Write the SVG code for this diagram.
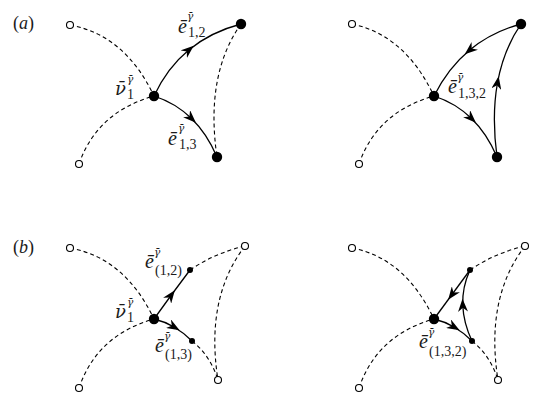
<svg xmlns="http://www.w3.org/2000/svg" width="554" height="410" viewBox="0 0 554 410">
<style>
.dash{fill:none;stroke:#000;stroke-width:1.1;stroke-dasharray:4,3}
.sol{fill:none;stroke:#000;stroke-width:1.3;marker-mid:url(#arr)}
.open{fill:#fff;stroke:#000;stroke-width:1.1}
.big{fill:#000}
.small{fill:#000}
text{font-family:"Liberation Serif","Times New Roman",serif;fill:#1a1a1a}
.m{font-size:20px;font-style:italic}
.g{font-family:"DejaVu Serif",serif;font-size:18px;font-style:italic}
.sup{font-family:"DejaVu Serif",serif;font-size:10.5px;font-style:italic}
.sub{font-size:14px}
.pl{font-size:18px}
</style>
<defs>
<marker id="arr" markerUnits="userSpaceOnUse" markerWidth="14" markerHeight="10" refX="6.5" refY="5" orient="auto" viewBox="0 0 14 10">
<path d="M13,5 L0,0 L4,5 L0,10 Z" fill="#000"/>
</marker>
</defs>

<g id="connectors">
<!-- (a) left -->
<path class="dash" d="M70,25 Q125,35 154,96"/>
<path class="dash" d="M79,164 Q97,112 154,96"/>
<path class="dash" d="M241,24 Q205,75 217,157"/>
<path class="sol" d="M154,96 Q167,68 188.75,50 Q210.5,32 241,24"/>
<path class="sol" d="M154,96 Q175.5,103 191.25,118.25 Q207,133.5 217,157"/>
<!-- (a) right -->
<path class="dash" d="M352,24 Q405,35 434,96"/>
<path class="dash" d="M359,164 Q377,112 434,96"/>
<path class="sol" d="M521,24 Q491.5,32 469.75,50 Q448,68 434,96"/>
<path class="sol" d="M434,96 Q455.5,103 471.25,118.25 Q487,133.5 497,157"/>
<path class="sol" d="M497,157 Q491.5,116 497.5,82.75 Q503.5,49.5 521,24"/>
<!-- (b) left -->
<path class="dash" d="M70,248 Q125,258 154,319"/>
<path class="dash" d="M79,388 Q97,335 154,319"/>
<path class="dash" d="M190,270 Q215,253 245,246"/>
<path class="dash" d="M245,246 Q205,298 218,380"/>
<path class="dash" d="M192,341 Q210,355 218,380"/>
<path class="sol" d="M154,319 L171,295.5 L190,270"/>
<path class="sol" d="M154,319 Q164.5,321.5 174,327 Q183.5,332.5 192,341"/>
<!-- (b) right -->
<path class="dash" d="M352,248 Q405,258 434,319"/>
<path class="dash" d="M359,388 Q377,335 434,319"/>
<path class="dash" d="M470,270 Q495,253 525,246"/>
<path class="dash" d="M525,246 Q485,298 498,380"/>
<path class="dash" d="M472,341 Q490,355 498,380"/>
<path class="sol" d="M470,270 L452,294.5 L434,319"/>
<path class="sol" d="M434,319 Q444.5,321.5 454,327 Q463.5,332.5 472,341"/>
<path class="sol" d="M472,341 Q463.5,323 462.75,305.25 Q462,287.5 470,270"/>
</g>

<!-- nodes (a) left -->
<g id="a-left-o1"><circle class="open" cx="70" cy="25" r="3.5"/></g>
<g id="a-left-o2"><circle class="open" cx="79" cy="164" r="3.5"/></g>
<g id="a-left-v1"><circle class="big" cx="154" cy="96" r="5.2"/></g>
<g id="a-left-v2"><circle class="big" cx="241" cy="24" r="5.2"/></g>
<g id="a-left-v3"><circle class="big" cx="217" cy="157" r="5.2"/></g>
<!-- nodes (a) right -->
<g id="a-right-o1"><circle class="open" cx="352" cy="24" r="3.5"/></g>
<g id="a-right-o2"><circle class="open" cx="359" cy="164" r="3.5"/></g>
<g id="a-right-v1"><circle class="big" cx="434" cy="96" r="5.2"/></g>
<g id="a-right-v2"><circle class="big" cx="521" cy="24" r="5.2"/></g>
<g id="a-right-v3"><circle class="big" cx="497" cy="157" r="5.2"/></g>
<!-- nodes (b) left -->
<g id="b-left-o1"><circle class="open" cx="70" cy="248" r="3.5"/></g>
<g id="b-left-o2"><circle class="open" cx="79" cy="388" r="3.5"/></g>
<g id="b-left-o3"><circle class="open" cx="245" cy="246" r="3.5"/></g>
<g id="b-left-o4"><circle class="open" cx="218" cy="380" r="3.5"/></g>
<g id="b-left-v1"><circle class="big" cx="154" cy="319" r="5.2"/></g>
<g id="b-left-n1"><circle class="small" cx="190" cy="270" r="3"/></g>
<g id="b-left-n2"><circle class="small" cx="192" cy="341" r="3"/></g>
<!-- nodes (b) right -->
<g id="b-right-o1"><circle class="open" cx="352" cy="248" r="3.5"/></g>
<g id="b-right-o2"><circle class="open" cx="359" cy="388" r="3.5"/></g>
<g id="b-right-o3"><circle class="open" cx="525" cy="246" r="3.5"/></g>
<g id="b-right-o4"><circle class="open" cx="498" cy="380" r="3.5"/></g>
<g id="b-right-v1"><circle class="big" cx="434" cy="319" r="5.2"/></g>
<g id="b-right-n1"><circle class="small" cx="470" cy="270" r="3"/></g>
<g id="b-right-n2"><circle class="small" cx="472" cy="341" r="3"/></g>

<g id="labels">
<text class="pl" x="13" y="29">(<tspan font-style="italic">a</tspan>)</text>
<text class="pl" x="13" y="253">(<tspan font-style="italic">b</tspan>)</text>

<text class="m" x="178" y="33">ē</text><text class="sup" x="187" y="20">γ̄</text><text class="sub" x="188" y="37">1,2</text>
<text class="g" x="115" y="95">ν̄</text><text class="sup" x="127" y="83">γ̄</text><text class="sub" x="127" y="99">1</text>
<text class="m" x="168" y="145">ē</text><text class="sup" x="178" y="132">γ̄</text><text class="sub" x="179" y="149">1,3</text>

<text class="m" x="448" y="93">ē</text><text class="sup" x="457" y="81">γ̄</text><text class="sub" x="458" y="98">1,3,2</text>

<text class="g" x="115" y="318">ν̄</text><text class="sup" x="127" y="306">γ̄</text><text class="sub" x="127" y="322">1</text>
<text class="m" x="145" y="268">ē</text><text class="sup" x="154" y="256">γ̄</text><text class="sub" x="155" y="275">(1,2)</text>
<text class="m" x="155" y="352">ē</text><text class="sup" x="164" y="340">γ̄</text><text class="sub" x="165" y="359">(1,3)</text>
<text class="m" x="419" y="348">ē</text><text class="sup" x="428" y="336">γ̄</text><text class="sub" x="429" y="356">(1,3,2)</text>
</g>
</svg>
